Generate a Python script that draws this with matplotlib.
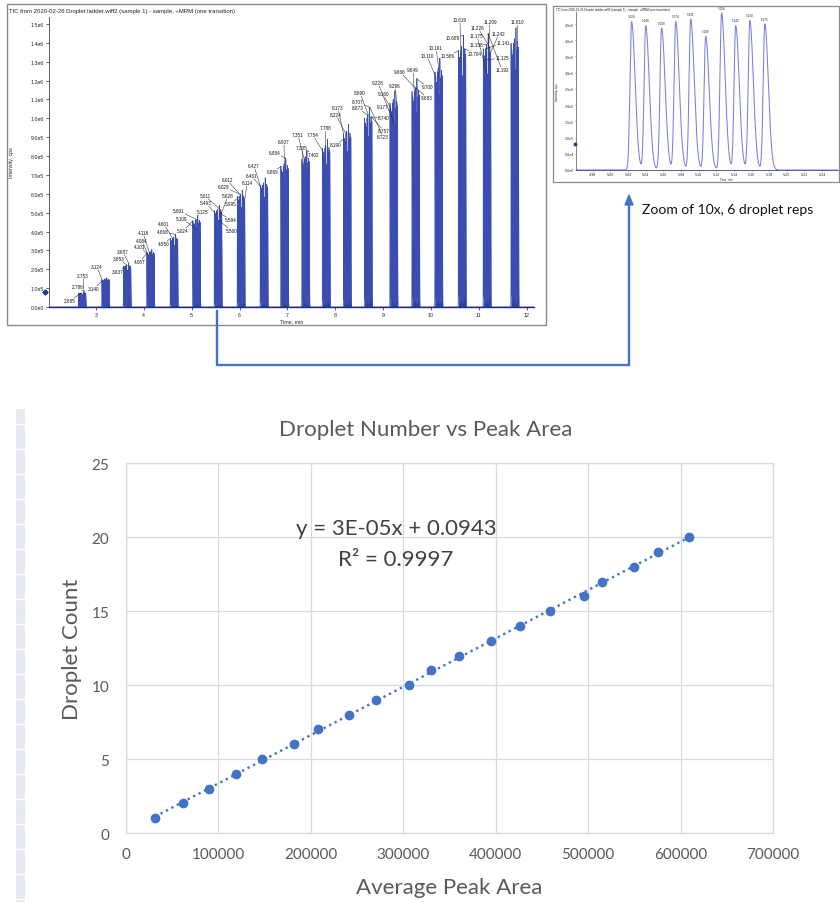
import numpy as np
import matplotlib
matplotlib.use('Agg')
import matplotlib.pyplot as plt
from matplotlib.lines import Line2D
from matplotlib.patches import Rectangle, Polygon
from matplotlib.ticker import FuncFormatter

# ------------------------------------------------------------------ data
# Calibration scatter (bottom chart)
droplet_count = [1, 2, 3, 4, 5, 6, 7, 8, 9, 10,
                 11, 12, 13, 14, 15, 16, 17, 18, 19, 20]
avg_peak_area = [31400, 62100, 89900, 119200, 147000, 181300, 208000, 241300,
                 270900, 305900, 330400, 360400, 394700, 426100, 458600,
                 495900, 515300, 549300, 576000, 609200]
eq_text = "y = 3E-05x + 0.0943"
r2_text = "R² = 0.9997"

# Zoomed chromatogram (6-droplet group, 10 replicate peaks)
inset_peak_times = [5.024, 5.040, 5.058, 5.074, 5.091, 5.108, 5.126, 5.142, 5.158, 5.175]
inset_peak_cps = [4.57e5, 4.45e5, 4.37e5, 4.57e5, 4.65e5, 4.12e5, 4.84e5, 4.45e5, 4.60e5, 4.50e5]

# Full TIC: first replicate peak time and max intensity of each droplet group
group_first_peak_min = [2.634, 3.124, 3.574, 4.064, 4.554, 5.024, 5.474, 5.954, 6.434, 6.864,
                        7.304, 7.734, 8.174, 8.614, 9.144, 9.604, 10.084, 10.574, 11.094, 11.674]
group_max_cps = [0.78e5, 1.55e5, 2.30e5, 3.05e5, 3.85e5, 4.84e5, 5.40e5, 6.20e5, 6.85e5, 7.90e5,
                 8.30e5, 8.90e5, 9.70e5, 1.06e6, 1.145e6, 1.21e6, 1.32e6, 1.44e6, 1.45e6, 1.48e6]

# Peak-time labels of the TIC
peak_labels = ["2.685", "2.786", "2.753", "3.124", "3.140", "3.687", "3.653", "3.637",
               "4.118", "4.084", "4.101", "4.067", "4.601", "4.668", "4.550",
               "5.091", "5.125", "5.108", "5.024", "5.611", "5.628", "5.493", "5.594", "5.560",
               "6.012", "6.029", "6.114", "5.995", "6.427", "6.461", "6.869", "6.937", "6.954",
               "7.335", "7.351", "7.402", "7.754", "7.788", "8.190", "8.173", "8.224",
               "8.690", "8.707", "8.673", "8.740", "8.757", "8.723", "9.228", "9.160", "9.177",
               "9.296", "9.666", "9.649", "9.700", "9.683", "10.161", "10.110", "10.586",
               "10.619", "10.688", "10.704", "11.209", "11.226", "11.242", "11.175", "11.141",
               "11.158", "11.125", "11.192", "11.810"]

# ------------------------------------------------------------------ layout (pixels)
W, H = 840, 903
def fx(x): return x / W
def fy(y): return 1 - y / H

label_px = [(70, 302), (78, 288), (83, 277), (97, 268), (94, 290), (123, 253), (119, 260), (118, 273),
            (143, 234), (142, 242), (140, 248), (140, 263), (164, 225), (163, 233), (164, 245),
            (179, 212), (203, 213), (182, 220), (183, 232), (205, 197), (228, 197), (206, 204),
            (231, 221), (232, 232), (227, 181), (224, 188), (247, 184), (231, 205), (254, 167),
            (252, 177), (273, 173), (284, 143), (275, 154), (302, 149), (298, 136), (314, 156),
            (313, 136), (326, 129), (335, 146), (338, 109), (336, 116), (360, 94), (358, 103),
            (358, 109), (384, 119), (384, 132), (383, 138), (378, 84), (383, 95), (383, 108),
            (395, 87), (400, 73), (413, 71), (428, 88), (427, 99), (436, 49), (427, 57),
            (448, 57), (460, 21), (453, 39), (475, 55), (490, 23), (478, 29), (499, 35),
            (477, 37), (503, 44), (476, 46), (502, 59), (502, 71), (517, 23)]

SL, SR = 0.0018, 0.0040   # rise / tail widths of a peak (min)


def trace(t, times, heights):
    y = np.zeros_like(t)
    for t0, h in zip(times, heights):
        i0 = np.searchsorted(t, t0 - 0.02)
        i1 = np.searchsorted(t, t0 + 0.04)
        d = t[i0:i1] - t0
        s = np.where(d < 0, SL, SR)
        y[i0:i1] += h * np.exp(-0.5 * (d / s) ** 2)
    return y


def sci(v, p=None):
    m, e = f"{v:.1e}".split('e')
    return f"{m}e{int(e)}"


fig = plt.figure(figsize=(8.4, 9.03), dpi=100)
fig.patch.set_facecolor('white')
SANS = ['Liberation Sans', 'DejaVu Sans']
XL = ['Lato', 'DejaVu Sans']

# ------------------------------------------------------------------ TIC panel
fig.add_artist(Rectangle((fx(7), fy(326)), (546 - 7) / W, (326 - 5) / H, transform=fig.transFigure,
                         fill=False, ec='#8a8a8a', lw=1.0))
fig.text(fx(9), fy(12), "TIC from 2020-02-26 Droplet ladder.wiff2 (sample 1) - sample, +MRM (one transition)",
         fontsize=4.3, family=SANS, color='#222222', va='center', ha='left')

ax1 = fig.add_axes([fx(49), fy(308), (534 - 49) / W, (308 - 18) / H])
rep_offset = np.array(inset_peak_times) - inset_peak_times[0]
rep_rel = np.array(inset_peak_cps) / max(inset_peak_cps)
all_t, all_h = [], []
for s, hmax in zip(group_first_peak_min, group_max_cps):
    for off, r in zip(rep_offset, rep_rel):
        all_t.append(s + off)
        all_h.append(hmax * r)
t = np.linspace(2.0, 12.2, 60000)
y = trace(t, all_t, all_h)
ax1.fill_between(t, 0, y, color='#2c43a0', lw=0)
ax1.plot(t, y, color='#3a4db0', lw=0.5)
ax1.set_xlim(2.018, 12.153)
ax1.set_ylim(0, 1.537e6)
ax1.set_xticks(range(3, 13))
ax1.set_yticks(np.arange(0, 1.51e6, 1e5))
ax1.yaxis.set_major_formatter(FuncFormatter(sci))
ax1.spines['top'].set_visible(False)
ax1.spines['right'].set_visible(False)
ax1.spines['left'].set_color('#444444')
ax1.spines['left'].set_linewidth(0.6)
ax1.spines['bottom'].set_color('#1f2a78')
ax1.spines['bottom'].set_linewidth(1.0)
ax1.tick_params(length=2, width=0.5, labelsize=3.8, pad=1.5, colors='#222222')
for lab in ax1.get_xticklabels() + ax1.get_yticklabels():
    lab.set_family(SANS)
fig.text(fx(12), fy(163), "Intensity, cps", rotation=90, fontsize=3.8, family=SANS,
         ha='center', va='center', color='#222222')
fig.text(fx(292), fy(322), "Time, min", fontsize=3.8, family=SANS, ha='center', va='center',
         color='#222222')
fig.add_artist(Line2D([fx(45)], [fy(293)], marker='D', ms=2.6, color='#1f3a9a',
                      transform=fig.transFigure))

for txt, (px, py) in zip(peak_labels, label_px):
    tt = float(txt)
    m = (t > tt - 0.012) & (t < tt + 0.012)
    yy = y[m].max() if m.any() else 0
    ax1.annotate(txt, xy=(tt, yy), xytext=(px, H - py), textcoords='figure pixels',
                 fontsize=3.3, family=SANS, ha='center', va='center', color='#111111',
                 bbox=dict(boxstyle='square,pad=0.1', fc='none', ec='none'),
                 arrowprops=dict(arrowstyle='-', lw=0.35, color='#222222',
                                 shrinkA=0, shrinkB=0),
                 annotation_clip=False)

# ------------------------------------------------------------------ Zoom inset
fig.add_artist(Rectangle((fx(553), fy(183)), (839 - 553) / W, (183 - 7) / H, transform=fig.transFigure,
                         fill=False, ec='#8a8a8a', lw=0.9))
fig.text(fx(556), fy(10), "TIC from 2020-02-26 Droplet ladder.wiff2 (sample 1) - sample, +MRM (one transition)",
         fontsize=2.2, family=SANS, color='#222222', va='center', ha='left')
ax2 = fig.add_axes([fx(576), fy(171), (838 - 576) / W, (171 - 13) / H])
t2 = np.linspace(4.961, 5.258, 5000)
y2 = trace(t2, inset_peak_times, inset_peak_cps)
ax2.plot(t2, y2, color='#7b80dc', lw=0.75)
ax2.set_xlim(4.961, 5.258)
ax2.set_ylim(0, 4.87e5)
ax2.set_xticks(np.arange(4.98, 5.241, 0.02))
ax2.xaxis.set_major_formatter(FuncFormatter(lambda v, p: f"{v:.2f}"))
ax2.set_yticks(np.arange(0, 4.51e5, 5e4))
ax2.yaxis.set_major_formatter(FuncFormatter(sci))
ax2.spines['top'].set_visible(False)
ax2.spines['right'].set_visible(False)
ax2.spines['left'].set_color('#555555')
ax2.spines['left'].set_linewidth(0.5)
ax2.spines['bottom'].set_color('#3a3f90')
ax2.spines['bottom'].set_linewidth(0.6)
ax2.tick_params(length=1.0, width=0.4, labelsize=2.3, pad=0.6, colors='#222222')
for tt, hh in zip(inset_peak_times, inset_peak_cps):
    ax2.annotate(f"{tt:.3f}", xy=(tt, hh), xytext=(0, 2.5), textcoords='offset points',
                 fontsize=2.2, family=SANS, ha='center', va='bottom', color='#222222')
fig.text(fx(557), fy(92), "Intensity, cps", rotation=90, fontsize=2.2, family=SANS,
         ha='center', va='center', color='#222222')
fig.text(fx(726), fy(180), "Time, min", fontsize=2.1, family=SANS, ha='center', va='center',
         color='#222222')
fig.add_artist(Line2D([fx(575)], [fy(145)], marker='o', ms=1.8, color='#1f3a9a',
                      transform=fig.transFigure))

fig.text(fx(642), fy(210), "Zoom of 10x, 6 droplet reps", fontsize=10, family=XL,
         ha='left', va='center', color='#111111')

# connector arrow
ARROW = '#4472C4'
fig.add_artist(Line2D([fx(217), fx(217), fx(629), fx(629)], [fy(312), fy(366), fy(366), fy(205)],
                      color=ARROW, lw=1.7, solid_joinstyle='miter', transform=fig.transFigure))
fig.add_artist(Polygon([[fx(629), fy(196)], [fx(625), fy(206)], [fx(633), fy(206)]], closed=True,
                       color=ARROW, transform=fig.transFigure))

# ------------------------------------------------------------------ left strip
fig.add_artist(Rectangle((fx(16), 0), (25 - 16) / W, fy(410), transform=fig.transFigure,
                         color='#E6E9F4', lw=0, zorder=0))
for yy_ in range(425, 903, 25):
    fig.add_artist(Line2D([fx(16), fx(25)], [fy(yy_), fy(yy_)], color='white', lw=1.0,
                          transform=fig.transFigure))

# ------------------------------------------------------------------ Excel scatter
ax3 = fig.add_axes([fx(126), fy(834), (773 - 126) / W, (834 - 464.3) / H])
ax3.set_xlim(0, 700000)
ax3.set_ylim(0, 25)
ax3.set_xticks(np.arange(0, 700001, 100000))
ax3.set_yticks(range(0, 26, 5))
ax3.xaxis.set_major_formatter(FuncFormatter(lambda v, p: f"{int(v)}"))
ax3.grid(True, color='#D9D9D9', lw=0.9)
ax3.set_axisbelow(True)
for sp in ax3.spines.values():
    sp.set_color('#D9D9D9')
    sp.set_linewidth(0.9)
ax3.tick_params(length=0, labelsize=11, labelcolor='#595959')
ax3.tick_params(axis='x', pad=10)
ax3.tick_params(axis='y', pad=12)
for lab in ax3.get_xticklabels() + ax3.get_yticklabels():
    lab.set_family(XL)

coef = np.polyfit(avg_peak_area, droplet_count, 1)
xs = np.array([min(avg_peak_area), max(avg_peak_area)])
ax3.plot(xs, np.polyval(coef, xs), ls=(0, (1, 1.6)), lw=1.7, color='#4472C4')
ax3.plot(avg_peak_area, droplet_count, 'o', ms=6, color='#4472C4', mec='#4472C4')

fig.text(fx(425.5), fy(430), "Droplet Number vs Peak Area", fontsize=16, family=XL,
         color='#595959', ha='center', va='center')
fig.text(fx(72), fy(649), "Droplet Count", fontsize=16, family=XL, rotation=90,
         color='#595959', ha='center', va='center')
fig.text(fx(449), fy(888), "Average Peak Area", fontsize=16, family=XL,
         color='#595959', ha='center', va='center')
fig.text(fx(396), fy(529), eq_text, fontsize=16, family=XL, color='#404040',
         ha='center', va='center')
fig.text(fx(396), fy(560), r2_text, fontsize=16, family=XL, color='#404040',
         ha='center', va='center')

fig.savefig('out.png', dpi=100)
